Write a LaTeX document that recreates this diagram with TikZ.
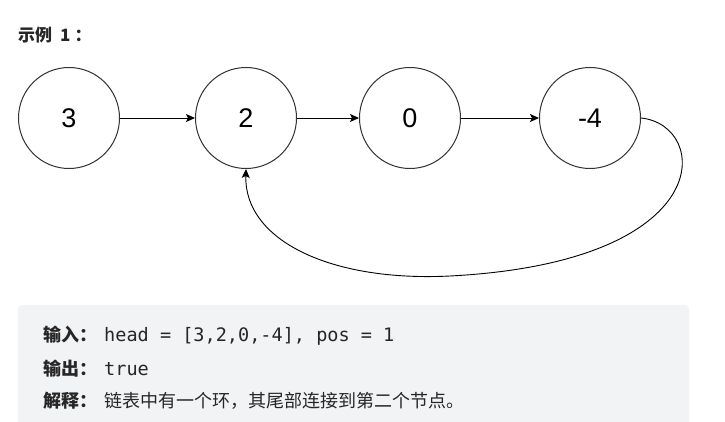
\documentclass[tikz,border=0pt]{standalone}
\usepackage{fontspec}
\setmainfont{Liberation Sans}
\newfontfamily\cjk{Noto Sans CJK SC}
\newfontfamily\codefont{DejaVu Sans Mono}[Scale=1.03]
\usetikzlibrary{arrows.meta, positioning}
\definecolor{boxgray}{RGB}{242,243,245}
\definecolor{inkgray}{RGB}{38,38,38}

\begin{document}
\begin{tikzpicture}[x=1pt, y=-1pt, node distance=170pt, auto]
\tikzstyle{listnode} = [circle, draw=black!80, line width=1pt, minimum size=101pt, inner sep=0pt, font=\fontsize{27}{27}\selectfont]
\tikzstyle{line} = [draw, -{Stealth[length=9pt, width=8pt, inset=2pt]}, line width=0.9pt]
\tikzstyle{textline} = [anchor=west, inner sep=0pt, text=inkgray, font=\fontsize{18}{18}\selectfont]

\useasboundingbox (0,0) rectangle (725,422);
\fill [boxgray, rounded corners=4pt] (18,305) rectangle (689,440);

\node [textline, font=\fontsize{17}{17}\selectfont\cjk\bfseries] (title) at (18,35) {示例\hspace{8pt}1\hspace{4pt}：};

\node [listnode] (n3) at (69,118) {3};
\node [listnode, right of=n3, xshift=7pt] (n2) {2};
\node [listnode, right of=n2, xshift=-6pt] (n0) {0};
\node [listnode, right of=n0, xshift=10pt] (m4) {-4};

\path [line] (n3) -- (n2);
\path [line] (n2) -- (n0);
\path [line] (n0) -- (m4);
\path [line] (m4.east) .. controls (710,125) and (720,262) .. (450,276)
  .. controls (330,282) and (244,240) .. (n2.south);

\node [textline] (input) at (43,336) {{\cjk\bfseries 输入：}\hspace{7pt}{\codefont head = [3,2,0,-4], pos = 1}};
\node [textline] (output) at (43,369) {{\cjk\bfseries 输出：}\hspace{7pt}{\codefont true}};
\node [textline] (explain) at (43,401) {{\cjk\bfseries 解释：}\hspace{7pt}{\cjk 链表中有一个环，其尾部连接到第二个节点。}};
\end{tikzpicture}
\end{document}
